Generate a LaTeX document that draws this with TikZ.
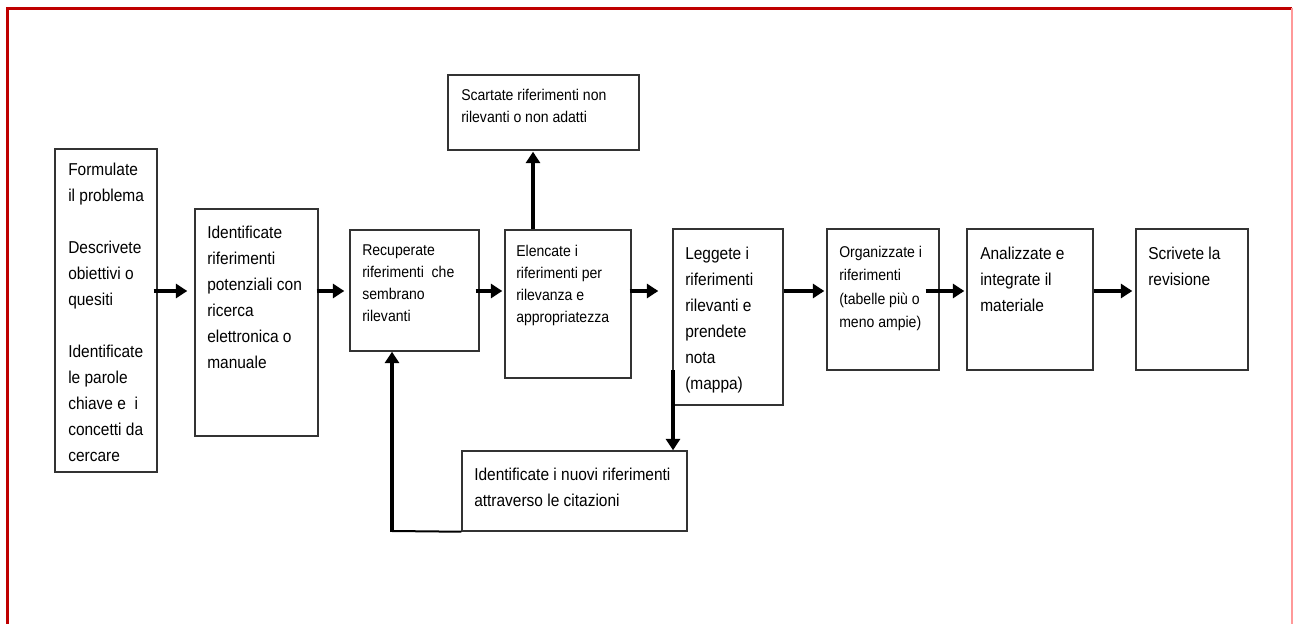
\documentclass[tikz,border=0pt]{standalone}
\usepackage{fontspec}
\setmainfont{Liberation Sans}[FakeStretch=0.9]
\usetikzlibrary{arrows.meta}

\newcommand\bigtxt{\fontsize{12.9pt}{19.5pt}\selectfont}
\newcommand\smalltxt{\fontsize{11.7pt}{16.5pt}\selectfont}

% a framed step: name, left, top, right, bottom (one unit = 0.75pt)
\newcommand\stepframe[5]{%
  \node[flowbox, minimum width={(#4-#2)*0.75pt}, minimum height={(#5-#3)*0.75pt}]
    (#1) at ({(#2+#4)/2},{(#3+#5)/2}) {};}

\tikzset{
  flowbox/.style={draw=black!80, line width=1.1pt, inner sep=0pt, rectangle},
  txt/.style={anchor=north west, inner sep=0pt, align=left, text=black},
  arr/.style={line width=2.4pt, -{Triangle[length=8.5pt, width=10.5pt]}},
  link/.style={line width=1.5pt},
  frameline/.style={draw=red!75!black, line width=2.25pt},
  frameedge/.style={draw=red!40, line width=1.1pt},
}

\begin{document}
\begin{tikzpicture}[x=0.75pt, y=-0.75pt]
\useasboundingbox (0,0) rectangle (1293,624);

% red page frame
\draw[frameline] (7,624) -- (7,8.5) -- (1292,8.5);
\draw[frameedge] (1292,8.5) -- (1292,624);

% boxes
\stepframe{b1}{55}{149}{157}{472}
\stepframe{b2}{195}{209}{318}{436}
\stepframe{b3}{350}{230}{479}{351}
\stepframe{b4}{505}{230}{631}{378}
\stepframe{b5}{673}{229}{783}{405}
\stepframe{b6}{827}{229}{939}{370}
\stepframe{b7}{967}{229}{1093}{370}
\stepframe{b8}{1136}{229}{1248}{370}
\stepframe{top}{448}{75}{639}{150}
\stepframe{bot}{462}{451}{687}{531}

% texts
\node[txt, font=\bigtxt] (t1) at (68,163) {Formulate\\il problema\\[19.5pt]Descrivete\\obiettivi o\\quesiti\\[19.5pt]Identificate\\le parole\\chiave e\ \ i\\concetti da\\cercare};
\node[txt, font=\bigtxt] (t2) at (207,226) {Identificate\\riferimenti\\potenziali con\\ricerca\\elettronica o\\manuale};
\node[txt, font=\smalltxt] (t3) at (362,245) {Recuperate\\riferimenti\ \ che\\sembrano\\rilevanti};
\node[txt, font=\smalltxt] (t4) at (516,245) {Elencate i\\riferimenti per\\rilevanza e\\appropriatezza};
\node[txt, font=\bigtxt] (t5) at (685,247) {Leggete i\\riferimenti\\rilevanti e\\prendete\\nota\\(mappa)};
\node[txt, font=\fontsize{11.7pt}{17.5pt}\selectfont] (t6) at (839,246) {Organizzate i\\riferimenti\\(tabelle più o\\meno ampie)};
\node[txt, font=\bigtxt] (t7) at (980,247) {Analizzate e\\integrate il\\materiale};
\node[txt, font=\bigtxt] (t8) at (1148,247) {Scrivete la\\revisione};
\node[txt, font=\smalltxt] (t9) at (461,89) {Scartate riferimenti non\\rilevanti o non adatti};
\node[txt, font=\bigtxt] (t10) at (474,468) {Identificate i nuovi riferimenti\\attraverso le citazioni};

% main flow
\coordinate (row) at (0,291);
\draw[arr, shorten <=-3pt, shorten >=5.25pt] (b1.east |- row) -- (b2.west |- row);
\draw[arr, shorten <=-1.5pt, shorten >=3.75pt] (b2.east |- row) -- (b3.west |- row);
\draw[arr, shorten <=-3pt, shorten >=1.5pt] (b3.east |- row) -- (b4.west |- row);
\draw[arr, shorten <=-1.5pt, shorten >=10.5pt] (b4.east |- row) -- (b5.west |- row);
\draw[arr, shorten >=1.5pt] (b5.east |- row) -- (b6.west |- row);
\draw[arr, shorten <=-10.5pt, shorten >=1.5pt] (b6.east |- row) -- (b7.west |- row);
\draw[arr, shorten >=2.25pt] (b7.east |- row) -- (b8.west |- row);

% discarded references
\coordinate (up) at (533,0);
\draw[arr, shorten >=0.75pt] (b4.north -| up) -- (top.south -| up);

% citations found while reading
\coordinate (down) at (673,370);
\draw[arr] (down) -- (down |- bot.north);

% back to retrieval
\coordinate (ret) at (392,531);
\draw[link] (bot.south west) -- (ret);
\draw[arr, shorten <=-0.75pt] (ret) -- (ret |- b3.south);
\end{tikzpicture}
\end{document}
